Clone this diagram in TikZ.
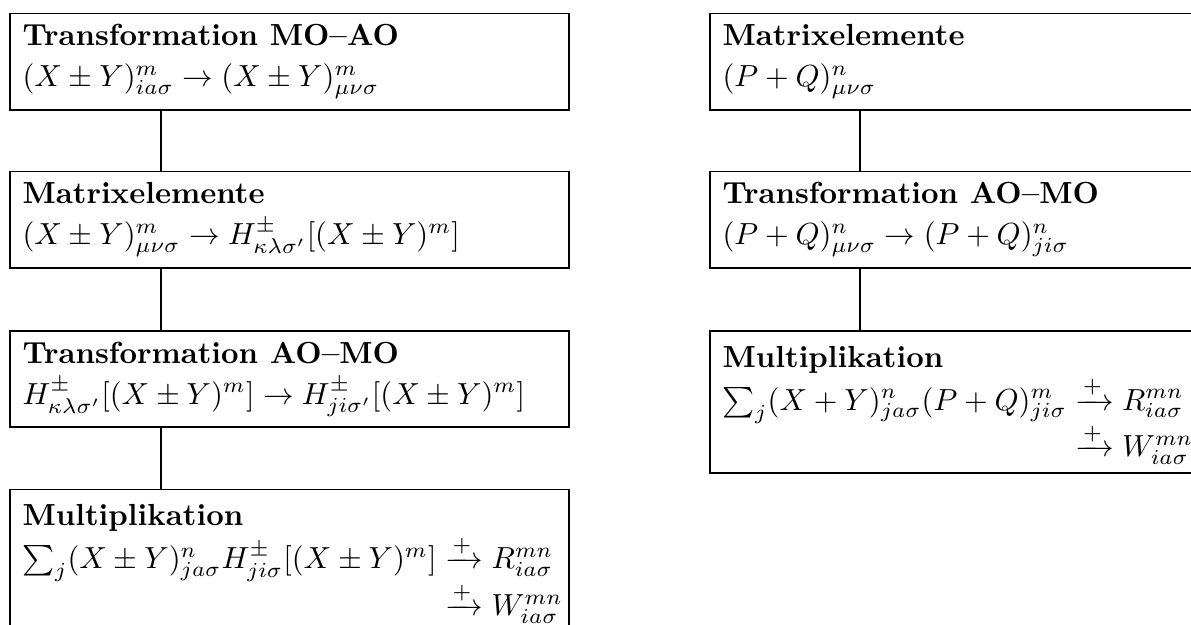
\documentclass[tikz,border=0pt]{standalone}
\usepackage{amsmath}
\usetikzlibrary{calc}
\begin{document}
\begin{tikzpicture}[x=0.328pt,y=-0.328pt,
  box/.style={draw, line width=0.65pt, anchor=north west, inner sep=0pt, minimum height=31.5pt},
  lbox/.style={box, minimum width=183.4pt},
  rbox/.style={box, minimum width=161.4pt},
  tall/.style={minimum height=46.6pt},
  txt/.style={anchor=base west, inner sep=0pt},
  conn/.style={line width=0.5pt}]
\useasboundingbox (0,0) rectangle (1191,624);
\clip (0,0) rectangle (1191,624);
% left column
\node[lbox] (L1) at (9,12.5) {};
\node[lbox] (L2) at (9,170.5) {};
\node[lbox] (L3) at (9,330) {};
\node[lbox,tall] (L4) at (9,488.5) {};
% right column
\node[rbox] (R1) at (709,12.5) {};
\node[rbox] (R2) at (709,170.5) {};
\node[rbox,tall] (R3) at (709,330) {};
% texts
\node[txt] (L1a) at ($(L1.north west)+(13,33)$) {\textbf{Transformation MO--AO}};
\node[txt] (L1b) at ($(L1.north west)+(13,74)$) {$(X\pm Y)^m_{ia\sigma}\rightarrow(X\pm Y)^m_{\mu\nu\sigma}$};
\node[txt] (L2a) at ($(L2.north west)+(13,33)$) {\textbf{Matrixelemente}};
\node[txt] (L2b) at ($(L2.north west)+(13,74)$) {$(X\pm Y)^m_{\mu\nu\sigma}\rightarrow H^{\pm}_{\kappa\lambda\sigma'}[(X\pm Y)^m]$};
\node[txt] (L3a) at ($(L3.north west)+(13,33)$) {\textbf{Transformation AO--MO}};
\node[txt] (L3b) at ($(L3.north west)+(13,74)$) {$H^{\pm}_{\kappa\lambda\sigma'}[(X\pm Y)^m]\rightarrow H^{\pm}_{ji\sigma'}[(X\pm Y)^m]$};
\node[txt] (L4a) at ($(L4.north west)+(13,37)$) {\textbf{Multiplikation}};
\node[txt] (L4b) at ($(L4.north west)+(13,80)$) {$\begin{array}[t]{@{}r@{}l@{}}\sum_j(X\pm Y)^n_{ja\sigma}H^{\pm}_{ji\sigma}[(X\pm Y)^m] & {}\xrightarrow{+}R^{mn}_{ia\sigma}\\ & {}\xrightarrow{+}W^{mn}_{ia\sigma}\end{array}$};
\node[txt] (R1a) at ($(R1.north west)+(13,33)$) {\textbf{Matrixelemente}};
\node[txt] (R1b) at ($(R1.north west)+(13,74)$) {$(P+Q)^n_{\mu\nu\sigma}$};
\node[txt] (R2a) at ($(R2.north west)+(13,33)$) {\textbf{Transformation AO--MO}};
\node[txt] (R2b) at ($(R2.north west)+(13,74)$) {$(P+Q)^n_{\mu\nu\sigma}\rightarrow(P+Q)^n_{ji\sigma}$};
\node[txt] (R3a) at ($(R3.north west)+(13,37)$) {\textbf{Multiplikation}};
\node[txt] (R3b) at ($(R3.north west)+(13,80)$) {$\begin{array}[t]{@{}r@{}l@{}}\sum_j(X+Y)^n_{ja\sigma}(P+Q)^m_{ji\sigma} & {}\xrightarrow{+}R^{mn}_{ia\sigma}\\ & {}\xrightarrow{+}W^{mn}_{ia\sigma}\end{array}$};
% connectors
\draw[conn] ($(L1.south west)+(152,0)$) -- ($(L2.north west)+(152,0)$);
\draw[conn] ($(L2.south west)+(152,0)$) -- ($(L3.north west)+(152,0)$);
\draw[conn] ($(L3.south west)+(152,0)$) -- ($(L4.north west)+(152,0)$);
\draw[conn] ($(R1.south west)+(151,0)$) -- ($(R2.north west)+(151,0)$);
\draw[conn] ($(R2.south west)+(151,0)$) -- ($(R3.north west)+(151,0)$);
\end{tikzpicture}
\end{document}
